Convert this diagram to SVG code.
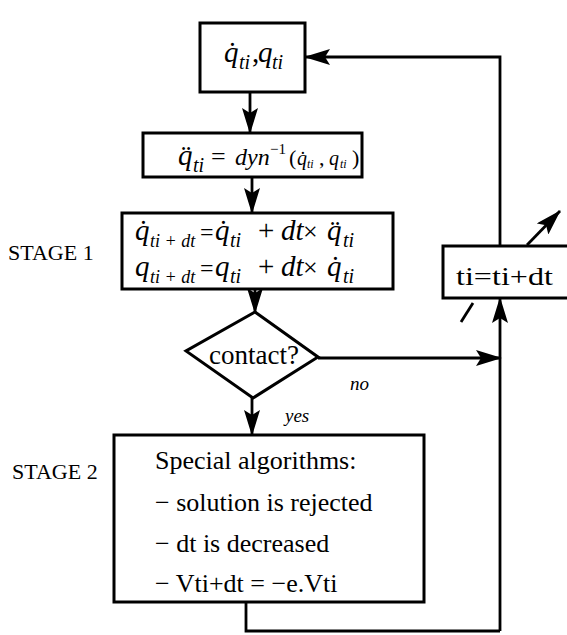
<svg xmlns="http://www.w3.org/2000/svg" width="567" height="635" viewBox="0 0 567 635" font-family="'Liberation Serif', 'Times New Roman', serif">
<style>
.box{fill:#fff;stroke:#000;stroke-width:3}
.ln{fill:none;stroke:#000;stroke-width:2.8}
.arr{marker-end:url(#ah)}
text{font-family:"Liberation Serif","Times New Roman",serif;fill:#000}
.it{font-style:italic}
.m{font-size:29px}
.s{font-size:20px}
.ss{font-size:18px}
.lbl{font-size:22px}
.body{font-size:26px}
</style>
<defs>
<marker id="ah" viewBox="0 0 26 16" refX="25" refY="8" markerWidth="26" markerHeight="16" markerUnits="userSpaceOnUse" orient="auto">
<path d="M0,0 L26,8 L0,16 L5,8 z" fill="#000"/>
</marker>
</defs>
<rect width="567" height="635" fill="#fff"/>

<g id="connectors">
<line class="ln arr" x1="250" y1="92" x2="250" y2="133"/>
<line class="ln arr" x1="252" y1="177" x2="252" y2="213"/>
<line class="ln arr" x1="255" y1="282" x2="255" y2="313"/>
<line class="ln arr" x1="252" y1="397" x2="252" y2="435"/>
<line class="ln arr" x1="318" y1="358" x2="501" y2="358"/>
<path class="ln" d="M246,602 V631 H500"/>
<path class="ln arr" d="M500,631 V298"/>
<path class="ln arr" d="M500,246 V57 H305"/>
<line class="ln arr" x1="527" y1="245" x2="560" y2="211"/>
<line class="ln" x1="461" y1="322" x2="473" y2="303"/>
</g>

<g id="state">
<rect class="box" x="200" y="23" width="105" height="69"/>
<text class="it m" x="224" y="62">q̇</text>
<text class="it s" x="239" y="69">ti</text>
<text class="m" x="252" y="62">,</text>
<text class="it m" x="258" y="62">q</text>
<text class="it s" x="272" y="69">ti</text>
</g>

<g id="dynamics">
<rect class="box" x="143" y="133" width="219" height="44"/>
<text class="it m" x="178" y="165">q̈</text>
<text class="it s" x="193" y="172">ti</text>
<text style="font-size:26px" x="211" y="165">=</text>
<text class="it" style="font-size:24px" x="235" y="165">dyn</text>
<text style="font-size:15px" x="270" y="154">−1</text>
<text style="font-size:22px" x="289" y="165">(</text>
<text class="it" style="font-size:20px" x="297" y="165">q̇</text>
<text class="it" style="font-size:12px" x="307" y="168">ti</text>
<text style="font-size:22px" x="319" y="165">,</text>
<text class="it" style="font-size:20px" x="329" y="165">q</text>
<text class="it" style="font-size:12px" x="340" y="168">ti</text>
<text style="font-size:22px" x="352" y="165">)</text>
</g>

<g id="stage1">
<rect class="box" x="122" y="213" width="271" height="76"/>
<text class="it m" x="135" y="240">q̇</text>
<text class="it ss" x="150" y="247">ti + dt</text>
<text style="font-size:24px" x="200" y="240">=</text>
<text class="it m" x="215" y="240">q̇</text>
<text class="it s" x="230" y="247">ti</text>
<text class="m" x="258" y="240">+</text>
<text class="it m" x="281" y="240">dt</text>
<text style="font-size:26px" x="303" y="240">×</text>
<text class="it m" x="327" y="240">q̈</text>
<text class="it s" x="343" y="247">ti</text>

<text class="it m" x="135" y="276">q</text>
<text class="it ss" x="150" y="283">ti + dt</text>
<text style="font-size:24px" x="200" y="276">=</text>
<text class="it m" x="215" y="276">q</text>
<text class="it s" x="230" y="283">ti</text>
<text class="m" x="258" y="276">+</text>
<text class="it m" x="281" y="276">dt</text>
<text style="font-size:26px" x="303" y="276">×</text>
<text class="it m" x="327" y="276">q̇</text>
<text class="it s" x="343" y="283">ti</text>
</g>

<g id="decision">
<polygon class="box" points="255,312 318,357 253,398 186,351"/>
<text x="209" y="364" style="font-size:27px">contact?</text>
</g>

<g id="stage2">
<rect class="box" x="114" y="435" width="310" height="167"/>
<text class="body" x="155" y="469">Special algorithms:</text>
<text class="body" x="155" y="511">− solution is rejected</text>
<text class="body" x="155" y="552">− dt is decreased</text>
<text class="body" x="155" y="592">− Vti+dt = −e.Vti</text>
</g>

<g id="increment">
<rect class="box" x="443" y="246" width="130" height="52"/>
<text class="body" x="456" y="285" textLength="97" lengthAdjust="spacingAndGlyphs">ti=ti+dt</text>
</g>

<g id="labels">
<text class="lbl" x="8" y="260">STAGE 1</text>
<text class="lbl" x="12" y="479">STAGE 2</text>
<text class="it" style="font-size:19px" x="350" y="390">no</text>
<text class="it" style="font-size:19px" x="285" y="422">yes</text>
</g>
</svg>
